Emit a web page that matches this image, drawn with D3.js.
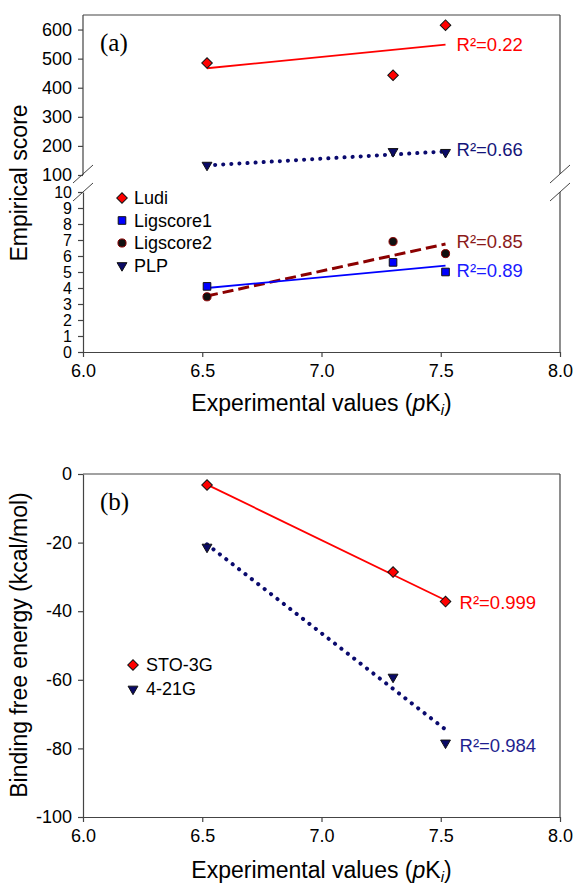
<!DOCTYPE html>
<html>
<head>
<meta charset="utf-8">
<script src="https://cdn.jsdelivr.net/npm/d3@7"></script>
<style>
  body { margin: 0; background: #fff; }
  text { font-family: "Liberation Sans", Arial, sans-serif; }
</style>
</head>
<body>
<svg id="chart" width="575" height="886"></svg>
<script>
// data
const pKi = [6.52, 7.30, 7.52];
const fitX = [6.52, 7.52];

const ludi = [485, 443, 615];
const ligscore1 = [4.1, 5.6, 5.0];
const ligscore2 = [3.45, 6.9, 6.15];
const plp = [134, 181, 178];

const ludiFit = [467, 548];
const ligscore1Fit = [4.0, 5.4];
const ligscore2Fit = [3.5, 6.75];
const plpFit = [133, 181];

const sto3g = [-3.2, -28.6, -37.2];
const g421 = [-21.3, -59.2, -78.4];
const sto3gFit = [-3.1, -36.8];
const g421Fit = [-20.5, -74.5];

const xTicks = [6.0, 6.5, 7.0, 7.5, 8.0];
const yHighTicks = [100, 200, 300, 400, 500, 600];
const yLowTicks = d3.range(0, 11);
const yBottomTicks = [0, -20, -40, -60, -80, -100];

const legendTop = ['Ludi', 'Ligscore1', 'Ligscore2', 'PLP'];
const legendBottom = ['STO-3G', '4-21G'];

const AXIS = '#444';
const LEFT = 83, RIGHT = 560;

const svg = d3.select('#chart');

const x = d3.scaleLinear().domain([6, 8]).range([LEFT, RIGHT]);

// panel (a) has a broken y axis: two scales
const yHigh = d3.scaleLinear().domain([100, 650]).range([175, 15]);
const yLow = d3.scaleLinear().domain([0, 10]).range([352, 192]);
// panel (b)
const yB = d3.scaleLinear().domain([-100, 0]).range([817, 474]);

const symbols = {
  diamond: { type: d3.symbolSquare, size: 56, rotate: 45, fill: '#ff0000', stroke: '#111' },
  square: { type: d3.symbolSquare, size: 58, rotate: 0, fill: '#0000ff', stroke: '#111' },
  circle: { type: d3.symbolCircle, size: 52, rotate: 0, fill: '#111', stroke: '#8b0000' },
  triangle: { type: d3.symbolTriangle, size: 42, rotate: 180, fill: '#0a0a66', stroke: '#111' }
};

function marker(g, kind, px, py) {
  const s = symbols[kind];
  g.append('path')
    .attr('d', d3.symbol().type(s.type).size(s.size)())
    .attr('transform', `translate(${px},${py}) rotate(${s.rotate})`)
    .attr('fill', s.fill)
    .attr('stroke', s.stroke)
    .attr('stroke-width', 1);
}

function styleAxis(g, fontSize) {
  g.select('.domain').attr('stroke', AXIS).attr('stroke-width', 1.2);
  g.selectAll('.tick line').attr('stroke', AXIS).attr('stroke-width', 1.2);
  g.selectAll('.tick text')
    .attr('fill', '#000')
    .style('font-size', fontSize + 'px')
    .style('font-family', '"Liberation Sans", Arial, sans-serif');
}

// plain hyphen for negatives, like the original
const plain = d => String(d);

function xAxis(yPos) {
  const g = svg.append('g')
    .attr('transform', `translate(0,${yPos})`)
    .call(d3.axisBottom(x).tickValues(xTicks).tickFormat(d3.format('.1f'))
      .tickSize(5).tickSizeOuter(0).tickPadding(7));
  styleAxis(g, 18);
}

function frame(top, bottom, breaks) {
  svg.append('line').attr('x1', LEFT).attr('x2', RIGHT).attr('y1', top).attr('y2', top)
    .attr('stroke', AXIS).attr('stroke-width', 1.2);
  if (breaks) {
    svg.append('line').attr('x1', RIGHT).attr('x2', RIGHT).attr('y1', top).attr('y2', breaks[0])
      .attr('stroke', AXIS).attr('stroke-width', 1.2);
    svg.append('line').attr('x1', RIGHT).attr('x2', RIGHT).attr('y1', breaks[1]).attr('y2', bottom)
      .attr('stroke', AXIS).attr('stroke-width', 1.2);
    [LEFT, RIGHT].forEach(bx => {
      breaks.forEach(by => {
        svg.append('line')
          .attr('x1', bx - 10).attr('y1', by + 9)
          .attr('x2', bx + 10).attr('y2', by - 9)
          .attr('stroke', AXIS).attr('stroke-width', 1);
      });
    });
  } else {
    svg.append('line').attr('x1', RIGHT).attr('x2', RIGHT).attr('y1', top).attr('y2', bottom)
      .attr('stroke', AXIS).attr('stroke-width', 1.2);
  }
}

function fitLine(yScale, vals, color, width, dash) {
  const line = d3.line().x((d, i) => x(fitX[i])).y(d => yScale(d));
  const p = svg.append('path')
    .datum(vals)
    .attr('d', line)
    .attr('fill', 'none')
    .attr('stroke', color)
    .attr('stroke-width', width);
  if (dash) p.attr('stroke-dasharray', dash);
  if (dash === '0.1 8') p.attr('stroke-linecap', 'round');
}

function r2Label(text, px, py, color) {
  svg.append('text')
    .attr('x', px).attr('y', py)
    .attr('dy', '0.35em')
    .attr('fill', color)
    .style('font-size', '18.5px')
    .text(text);
}

function yTitle(text, cy) {
  svg.append('text')
    .attr('transform', `translate(27,${cy}) rotate(-90)`)
    .attr('text-anchor', 'middle')
    .style('font-size', '23px')
    .text(text);
}

function xTitle(yPos) {
  const t = svg.append('text')
    .attr('x', (LEFT + RIGHT) / 2).attr('y', yPos)
    .attr('text-anchor', 'middle')
    .style('font-size', '23px');
  t.append('tspan').text('Experimental values (');
  t.append('tspan').style('font-style', 'italic').text('p');
  t.append('tspan').text('K');
  t.append('tspan').style('font-style', 'italic').style('font-size', '15px').attr('dy', 4).text('i');
  t.append('tspan').attr('dy', -4).text(')');
}

function panelTag(text, px, py) {
  svg.append('text')
    .attr('x', px).attr('y', py)
    .style('font-family', '"Liberation Serif", "Times New Roman", serif')
    .style('font-size', '25px')
    .text(text);
}

// ---------- panel (a) ----------
frame(15, 352, [174, 192]);

const gHigh = svg.append('g').attr('transform', `translate(${LEFT},0)`)
  .call(d3.axisLeft(yHigh).tickValues(yHighTicks).tickSize(5).tickSizeOuter(0).tickPadding(6));
styleAxis(gHigh, 18);
gHigh.select('.domain').attr('d', `M0,${yHigh(100)}V${yHigh.range()[1]}`);

const gLow = svg.append('g').attr('transform', `translate(${LEFT},0)`)
  .call(d3.axisLeft(yLow).tickValues(yLowTicks).tickSize(5).tickSizeOuter(0).tickPadding(6));
styleAxis(gLow, 16);

xAxis(352);

fitLine(yHigh, ludiFit, '#ff0000', 1.8);
fitLine(yHigh, plpFit, '#0a0a6e', 4, '0.1 8');
fitLine(yLow, ligscore2Fit, '#8b0000', 3, '11 5');
fitLine(yLow, ligscore1Fit, '#0000ff', 1.8);

pKi.forEach((v, i) => {
  marker(svg, 'diamond', x(v), yHigh(ludi[i]));
  marker(svg, 'triangle', x(v), yHigh(plp[i]));
  marker(svg, 'circle', x(v), yLow(ligscore2[i]));
  marker(svg, 'square', x(v), yLow(ligscore1[i]));
});

const labX = x(7.52) + 11;
r2Label('R²=0.22', labX, yHigh(ludiFit[1]), '#ff0000');
r2Label('R²=0.66', labX, yHigh(plpFit[1]) - 2, '#14147a');
r2Label('R²=0.85', labX, yLow(ligscore2Fit[1]) - 2, '#8b1a1a');
r2Label('R²=0.89', labX, yLow(ligscore1Fit[1]) + 5, '#1a1aff');

const legA = svg.append('g');
['diamond', 'square', 'circle', 'triangle'].forEach((k, i) => {
  const ly = 198 + i * 22.5;
  marker(legA, k, 122, ly);
  legA.append('text').attr('x', 134).attr('y', ly).attr('dy', '0.35em')
    .style('font-size', '18px').text(legendTop[i]);
});

panelTag('(a)', 100, 51);
yTitle('Empirical score', 183);
xTitle(411);

// ---------- panel (b) ----------
frame(474, 817, null);

const gB = svg.append('g').attr('transform', `translate(${LEFT},0)`)
  .call(d3.axisLeft(yB).tickValues(yBottomTicks).tickFormat(plain)
    .tickSize(5).tickSizeOuter(0).tickPadding(6));
styleAxis(gB, 18);

xAxis(817);

fitLine(yB, sto3gFit, '#ff0000', 1.8);
fitLine(yB, g421Fit, '#0a0a6e', 4, '0.1 8');

pKi.forEach((v, i) => {
  marker(svg, 'diamond', x(v), yB(sto3g[i]));
  marker(svg, 'triangle', x(v), yB(g421[i]));
});

const labXB = x(7.52) + 14;
r2Label('R²=0.999', labXB, yB(sto3g[2]) + 1, '#ff0000');
r2Label('R²=0.984', labXB, yB(g421[2]) + 3, '#1f1f8f');

const legB = svg.append('g');
['diamond', 'triangle'].forEach((k, i) => {
  const ly = 665 + i * 24;
  marker(legB, k, 133, ly);
  legB.append('text').attr('x', 146).attr('y', ly).attr('dy', '0.35em')
    .style('font-size', '18px').text(legendBottom[i]);
});

panelTag('(b)', 100, 510);
yTitle('Binding free energy (kcal/mol)', 645);
xTitle(878);
</script>
</body>
</html>
